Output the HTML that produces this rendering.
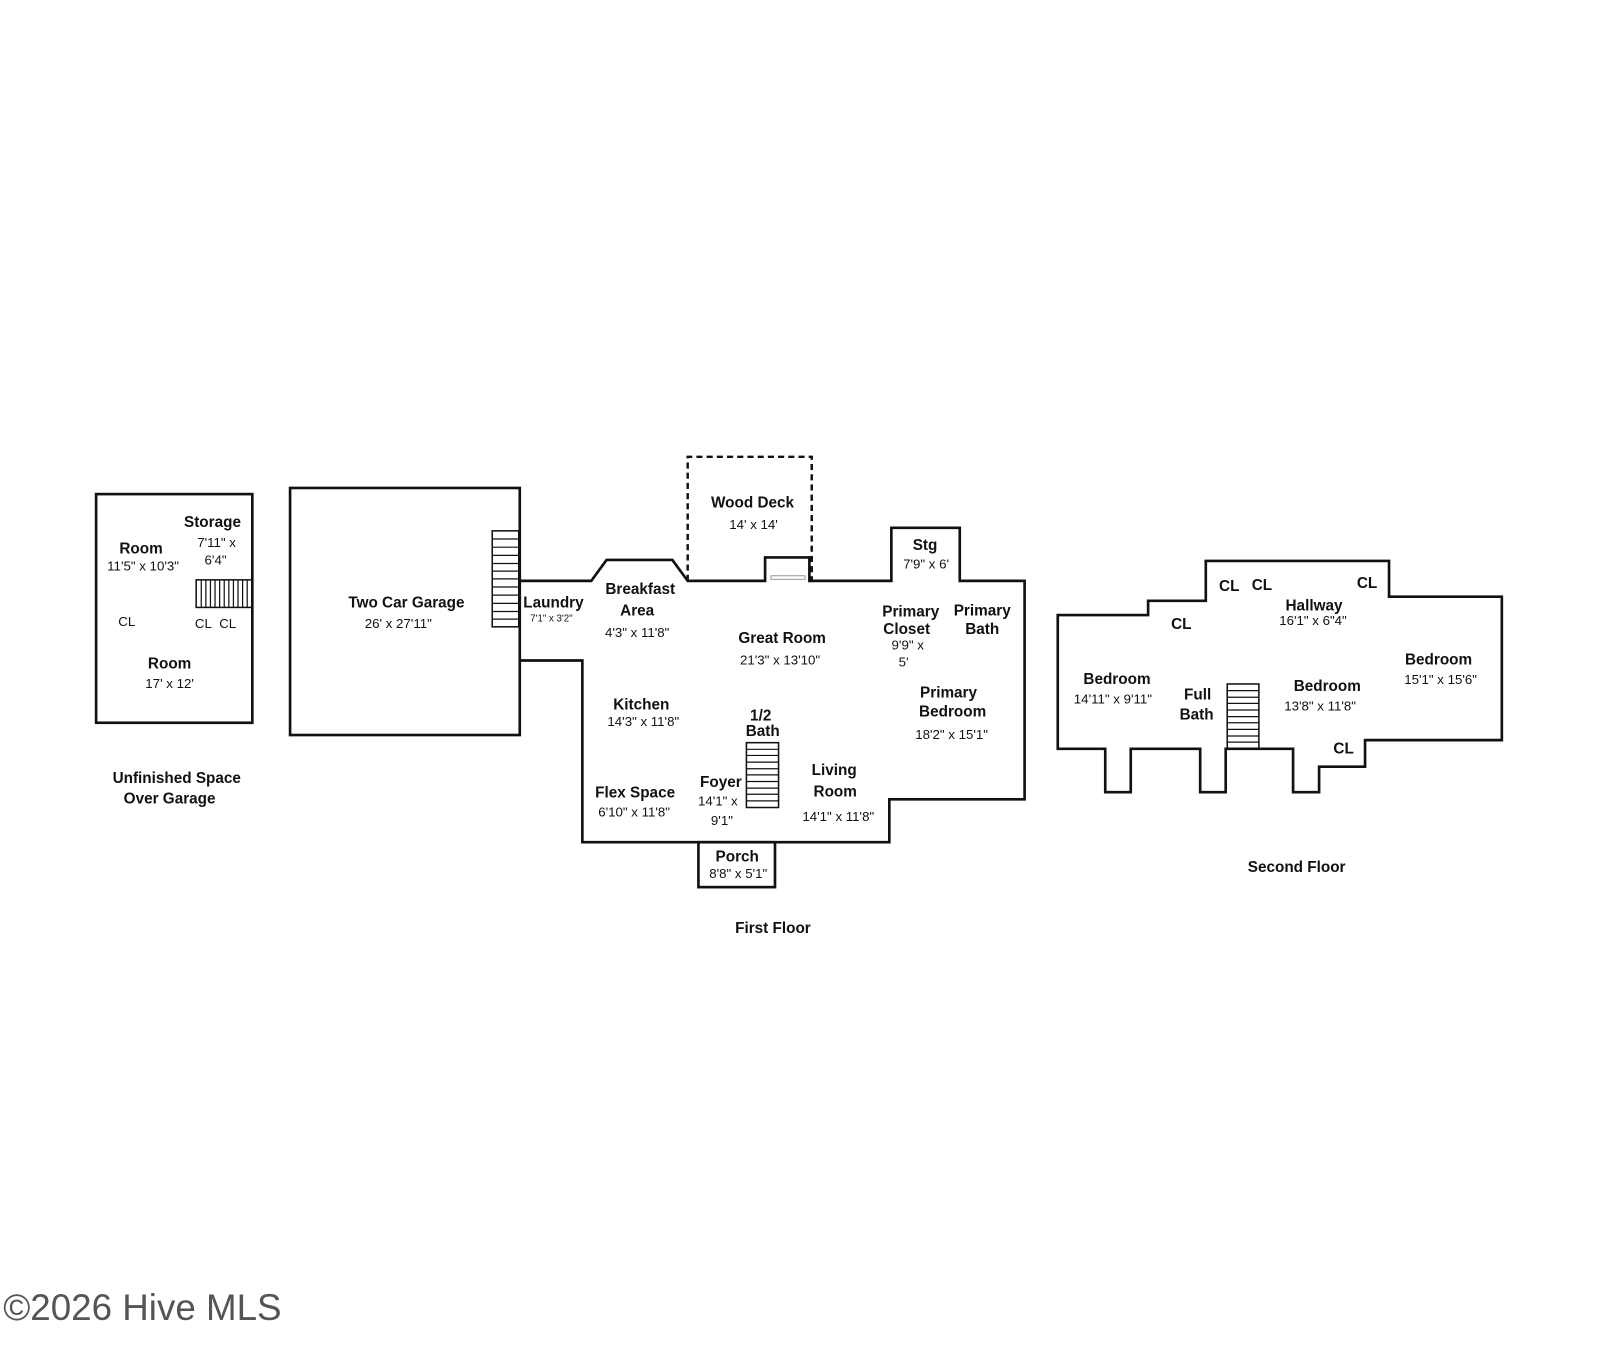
<!DOCTYPE html>
<html><head><meta charset="utf-8"><style>
html,body{margin:0;padding:0;background:#fff;}
svg{display:block}
text{font-family:"Liberation Sans",Arial,sans-serif;fill:#111;text-anchor:middle}
.b{font-weight:bold;font-size:15px}
.d{font-size:13px}
.s{font-size:9.5px}
.w{fill:none;stroke:#111;stroke-width:2.6}
.t{stroke:#111;stroke-width:1.2}
</style></head><body>
<svg width="1600" height="1370" viewBox="0 0 1567 1342" xmlns="http://www.w3.org/2000/svg">
<rect x="0" y="0" width="1567" height="1342" fill="#fff"/>

<!-- Unfinished space -->
<rect class="w" x="94" y="484" width="153" height="224"/>
<rect x="192" y="568" width="55" height="27" fill="none" stroke="#111" stroke-width="1.5"/>
<g class="t">
<line x1="197" y1="568" x2="197" y2="595"/><line x1="201.5" y1="568" x2="201.5" y2="595"/><line x1="206" y1="568" x2="206" y2="595"/><line x1="210.5" y1="568" x2="210.5" y2="595"/><line x1="215" y1="568" x2="215" y2="595"/><line x1="219.5" y1="568" x2="219.5" y2="595"/><line x1="224" y1="568" x2="224" y2="595"/><line x1="228.5" y1="568" x2="228.5" y2="595"/><line x1="233" y1="568" x2="233" y2="595"/><line x1="237.5" y1="568" x2="237.5" y2="595"/><line x1="242" y1="568" x2="242" y2="595"/>
</g>
<text class="b" x="208" y="516">Storage</text>
<text class="d" x="212" y="536">7'11" x</text>
<text class="d" x="211" y="553">6'4"</text>
<text class="b" x="138" y="542">Room</text>
<text class="d" x="140" y="559">11'5" x 10'3"</text>
<text class="d" x="124" y="613">CL</text>
<text class="d" x="211" y="615">CL&#160;&#160;CL</text>
<text class="b" x="166" y="655">Room</text>
<text class="d" x="166" y="674">17' x 12'</text>
<text class="b" x="173" y="767">Unfinished Space</text>
<text class="b" x="166" y="787">Over Garage</text>

<!-- Garage -->
<rect class="w" x="284" y="478" width="225" height="242"/>
<rect x="482" y="520" width="26" height="94" fill="none" stroke="#111" stroke-width="1.5"/>
<g class="t">
<line x1="482" y1="528" x2="508" y2="528"/><line x1="482" y1="536" x2="508" y2="536"/><line x1="482" y1="544" x2="508" y2="544"/><line x1="482" y1="552" x2="508" y2="552"/><line x1="482" y1="559.5" x2="508" y2="559.5"/><line x1="482" y1="567" x2="508" y2="567"/><line x1="482" y1="575" x2="508" y2="575"/><line x1="482" y1="583" x2="508" y2="583"/><line x1="482" y1="591" x2="508" y2="591"/><line x1="482" y1="599" x2="508" y2="599"/><line x1="482" y1="606.5" x2="508" y2="606.5"/>
</g>
<text class="b" x="398" y="595">Two Car Garage</text>
<text class="d" x="390" y="615">26' x 27'11"</text>

<!-- First floor -->
<polyline class="w" points="509,569 579,569 594,548.5 658.5,548.5 673.5,569 749.3,569 749.3,546 792.7,546 792.7,569 873,569 873,517 940,517 940,569 1003.5,569 1003.5,783 871,783 871,825 570.3,825 570.3,647 509,647"/>
<polyline points="673.5,569 673.5,447.5 795,447.5 795,569" fill="none" stroke="#111" stroke-width="2.4" stroke-dasharray="6,4"/>
<rect x="755" y="564" width="33.5" height="3.5" fill="none" stroke="#999" stroke-width="1"/>
<rect class="w" x="684" y="825" width="75" height="44"/>
<rect x="731" y="727.5" width="31.5" height="63.5" fill="none" stroke="#111" stroke-width="1.5"/>
<g class="t">
<line x1="731" y1="734" x2="762.5" y2="734"/><line x1="731" y1="740" x2="762.5" y2="740"/><line x1="731" y1="746.5" x2="762.5" y2="746.5"/><line x1="731" y1="753" x2="762.5" y2="753"/><line x1="731" y1="759" x2="762.5" y2="759"/><line x1="731" y1="765.5" x2="762.5" y2="765.5"/><line x1="731" y1="772" x2="762.5" y2="772"/><line x1="731" y1="778" x2="762.5" y2="778"/><line x1="731" y1="784.5" x2="762.5" y2="784.5"/>
</g>
<text class="b" x="737" y="497">Wood Deck</text>
<text class="d" x="738" y="518">14' x 14'</text>
<text class="b" x="906" y="539">Stg</text>
<text class="d" x="907" y="557">7'9" x 6'</text>
<text class="b" x="542" y="595">Laundry</text>
<text class="s" x="540" y="609">7'1" x 3'2"</text>
<text class="b" x="627" y="582">Breakfast</text>
<text class="b" x="624" y="603">Area</text>
<text class="d" x="624" y="624">4'3" x 11'8"</text>
<text class="b" x="766" y="630">Great Room</text>
<text class="d" x="764" y="651">21'3" x 13'10"</text>
<text class="b" x="892" y="604">Primary</text>
<text class="b" x="888" y="621">Closet</text>
<text class="d" x="889" y="636">9'9" x</text>
<text class="d" x="885" y="653">5'</text>
<text class="b" x="962" y="603">Primary</text>
<text class="b" x="962" y="621">Bath</text>
<text class="b" x="929" y="683">Primary</text>
<text class="b" x="933" y="702">Bedroom</text>
<text class="d" x="932" y="724">18'2" x 15'1"</text>
<text class="b" x="628" y="695">Kitchen</text>
<text class="d" x="630" y="711">14'3" x 11'8"</text>
<text class="b" x="745" y="706">1/2</text>
<text class="b" x="747" y="721">Bath</text>
<text class="b" x="817" y="759">Living</text>
<text class="b" x="818" y="780">Room</text>
<text class="d" x="821" y="804">14'1" x 11'8"</text>
<text class="b" x="706" y="771">Foyer</text>
<text class="d" x="703" y="789">14'1" x</text>
<text class="d" x="707" y="808">9'1"</text>
<text class="b" x="622" y="781">Flex Space</text>
<text class="d" x="621" y="800">6'10" x 11'8"</text>
<text class="b" x="722" y="844">Porch</text>
<text class="d" x="723" y="860">8'8" x 5'1"</text>
<text class="b" x="757" y="914">First Floor</text>

<!-- Second floor -->
<polygon class="w" points="1036,602.5 1124.5,602.5 1124.5,588.5 1181,588.5 1181,549.5 1360.5,549.5 1360.5,584.5 1471,584.5 1471,725 1337,725 1337,751 1292,751 1292,776 1266.5,776 1266.5,733.5 1200.5,733.5 1200.5,776 1175.5,776 1175.5,733.5 1107.5,733.5 1107.5,776 1082.5,776 1082.5,733.5 1036,733.5"/>
<rect x="1202" y="670" width="31" height="63.5" fill="none" stroke="#111" stroke-width="1.5"/>
<g class="t">
<line x1="1202" y1="676.5" x2="1233" y2="676.5"/><line x1="1202" y1="683" x2="1233" y2="683"/><line x1="1202" y1="689" x2="1233" y2="689"/><line x1="1202" y1="695.5" x2="1233" y2="695.5"/><line x1="1202" y1="702" x2="1233" y2="702"/><line x1="1202" y1="708" x2="1233" y2="708"/><line x1="1202" y1="714.5" x2="1233" y2="714.5"/><line x1="1202" y1="721" x2="1233" y2="721"/><line x1="1202" y1="727" x2="1233" y2="727"/>
</g>
<text class="b" x="1204" y="579">CL</text>
<text class="b" x="1236" y="578">CL</text>
<text class="b" x="1339" y="576">CL</text>
<text class="b" x="1157" y="616">CL</text>
<text class="b" x="1287" y="598">Hallway</text>
<text class="d" x="1286" y="612">16'1" x 6"4"</text>
<text class="b" x="1409" y="651">Bedroom</text>
<text class="d" x="1411" y="670">15'1" x 15'6"</text>
<text class="b" x="1094" y="670">Bedroom</text>
<text class="d" x="1090" y="689">14'11" x 9'11"</text>
<text class="b" x="1173" y="685">Full</text>
<text class="b" x="1172" y="705">Bath</text>
<text class="b" x="1300" y="677">Bedroom</text>
<text class="d" x="1293" y="696">13'8" x 11'8"</text>
<text class="b" x="1316" y="738">CL</text>
<text class="b" x="1270" y="854">Second Floor</text>

<text x="3" y="1293" style="font-size:36px;fill:#555;text-anchor:start">©2026 Hive MLS</text>
</svg>
</body></html>
